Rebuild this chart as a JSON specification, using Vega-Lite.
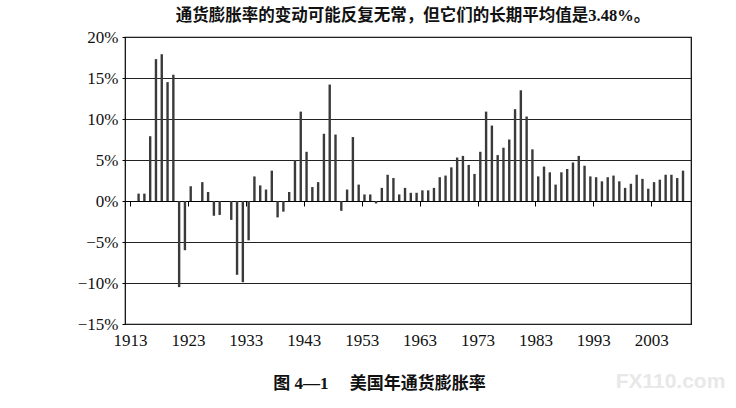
{
  "$schema": "https://vega.github.io/schema/vega-lite/v6.json",
  "width": 566,
  "height": 287,
  "autosize": "none",
  "padding": {"left": 125, "top": 37, "right": 45, "bottom": 84},
  "background": "#ffffff",
  "title": {
    "text": "通货膨胀率的变动可能反复无常，但它们的长期平均值是3.48%。",
    "font": "'Liberation Serif', 'Noto Sans CJK SC'",
    "fontSize": 16.5,
    "fontWeight": "bold",
    "color": "#111111",
    "anchor": "middle",
    "dx": 5,
    "offset": 4
  },
  "data": {
    "values": [
      {"year": 1914, "rate": 0.9}, {"year": 1915, "rate": 0.9}, {"year": 1916, "rate": 7.9},
      {"year": 1917, "rate": 17.3}, {"year": 1918, "rate": 17.9}, {"year": 1919, "rate": 14.5},
      {"year": 1920, "rate": 15.4}, {"year": 1921, "rate": -10.5}, {"year": 1922, "rate": -6.0},
      {"year": 1923, "rate": 1.8}, {"year": 1924, "rate": 0.0}, {"year": 1925, "rate": 2.3},
      {"year": 1926, "rate": 1.1}, {"year": 1927, "rate": -1.8}, {"year": 1928, "rate": -1.7},
      {"year": 1929, "rate": 0.0}, {"year": 1930, "rate": -2.3}, {"year": 1931, "rate": -9.0},
      {"year": 1932, "rate": -9.9}, {"year": 1933, "rate": -4.8}, {"year": 1934, "rate": 3.0},
      {"year": 1935, "rate": 1.9}, {"year": 1936, "rate": 1.4}, {"year": 1937, "rate": 3.7},
      {"year": 1938, "rate": -2.0}, {"year": 1939, "rate": -1.3}, {"year": 1940, "rate": 1.1},
      {"year": 1941, "rate": 5.0}, {"year": 1942, "rate": 10.9}, {"year": 1943, "rate": 6.0},
      {"year": 1944, "rate": 1.7}, {"year": 1945, "rate": 2.3}, {"year": 1946, "rate": 8.2},
      {"year": 1947, "rate": 14.2}, {"year": 1948, "rate": 8.1}, {"year": 1949, "rate": -1.2},
      {"year": 1950, "rate": 1.4}, {"year": 1951, "rate": 7.8}, {"year": 1952, "rate": 2.0},
      {"year": 1953, "rate": 0.8}, {"year": 1954, "rate": 0.8}, {"year": 1955, "rate": -0.3},
      {"year": 1956, "rate": 1.6}, {"year": 1957, "rate": 3.2}, {"year": 1958, "rate": 2.8},
      {"year": 1959, "rate": 0.8}, {"year": 1960, "rate": 1.6}, {"year": 1961, "rate": 1.0},
      {"year": 1962, "rate": 1.0}, {"year": 1963, "rate": 1.3}, {"year": 1964, "rate": 1.3},
      {"year": 1965, "rate": 1.6}, {"year": 1966, "rate": 2.9}, {"year": 1967, "rate": 3.1},
      {"year": 1968, "rate": 4.1}, {"year": 1969, "rate": 5.3}, {"year": 1970, "rate": 5.5},
      {"year": 1971, "rate": 4.4}, {"year": 1972, "rate": 3.3}, {"year": 1973, "rate": 6.0},
      {"year": 1974, "rate": 10.9}, {"year": 1975, "rate": 9.2}, {"year": 1976, "rate": 5.6},
      {"year": 1977, "rate": 6.5}, {"year": 1978, "rate": 7.5}, {"year": 1979, "rate": 11.2},
      {"year": 1980, "rate": 13.5}, {"year": 1981, "rate": 10.3}, {"year": 1982, "rate": 6.3},
      {"year": 1983, "rate": 3.0}, {"year": 1984, "rate": 4.2}, {"year": 1985, "rate": 3.5},
      {"year": 1986, "rate": 2.0}, {"year": 1987, "rate": 3.5}, {"year": 1988, "rate": 3.9},
      {"year": 1989, "rate": 4.7}, {"year": 1990, "rate": 5.5}, {"year": 1991, "rate": 4.3},
      {"year": 1992, "rate": 3.0}, {"year": 1993, "rate": 2.9}, {"year": 1994, "rate": 2.4},
      {"year": 1995, "rate": 2.9}, {"year": 1996, "rate": 3.1}, {"year": 1997, "rate": 2.4},
      {"year": 1998, "rate": 1.6}, {"year": 1999, "rate": 2.1}, {"year": 2000, "rate": 3.2},
      {"year": 2001, "rate": 2.7}, {"year": 2002, "rate": 1.5}, {"year": 2003, "rate": 2.3},
      {"year": 2004, "rate": 2.6}, {"year": 2005, "rate": 3.2}, {"year": 2006, "rate": 3.2},
      {"year": 2007, "rate": 2.8}, {"year": 2008, "rate": 3.7}
    ]
  },
  "mark": {"type": "bar", "width": 2.4, "xOffset": 2.8, "color": "#3a3a3a"},
  "encoding": {
    "x": {
      "field": "year",
      "type": "quantitative",
      "scale": {"domain": [1913, 2009], "nice": false, "zero": false},
      "axis": {
        "values": [1913, 1923, 1933, 1943, 1953, 1963, 1973, 1983, 1993, 2003],
        "format": "d",
        "orient": "bottom",
        "offset": -123,
        "grid": false,
        "domain": true,
        "domainColor": "#000000",
        "ticks": true,
        "tickSize": 5,
        "tickColor": "#000000",
        "labelPadding": 126,
        "labelFont": "Liberation Serif",
        "labelFontSize": 17,
        "labelColor": "#111111",
        "labelFlush": false,
        "labelOverlap": false,
        "title": "图 4—1　  美国年通货膨胀率",
        "titleFont": "'Liberation Serif', 'Noto Sans CJK SC'",
        "titleFontSize": 17,
        "titleFontWeight": "bold",
        "titleColor": "#111111",
        "titleX": 254,
        "titleY": 182,
        "titleAlign": "center",
        "titleBaseline": "middle"
      }
    },
    "y": {
      "field": "rate",
      "type": "quantitative",
      "scale": {"domain": [-15, 20], "nice": false},
      "axis": {
        "values": [-15, -10, -5, 0, 5, 10, 15, 20],
        "format": "d",
        "labelExpr": "datum.label + '%'",
        "grid": true,
        "gridColor": "#222222",
        "gridWidth": 1,
        "domain": false,
        "ticks": true,
        "tickSize": 3,
        "tickColor": "#000000",
        "labelPadding": 4,
        "labelFont": "Liberation Serif",
        "labelFontSize": 17,
        "labelColor": "#111111",
        "title": "FX110.com",
        "titleAngle": 0,
        "titleX": 545,
        "titleY": 344,
        "titleFont": "Liberation Sans",
        "titleFontSize": 21,
        "titleFontWeight": "bold",
        "titleColor": "#e8e8e8",
        "titleAlign": "center",
        "titleBaseline": "middle"
      }
    }
  },
  "config": {"view": {"stroke": "#000000", "strokeWidth": 1.2}}
}
